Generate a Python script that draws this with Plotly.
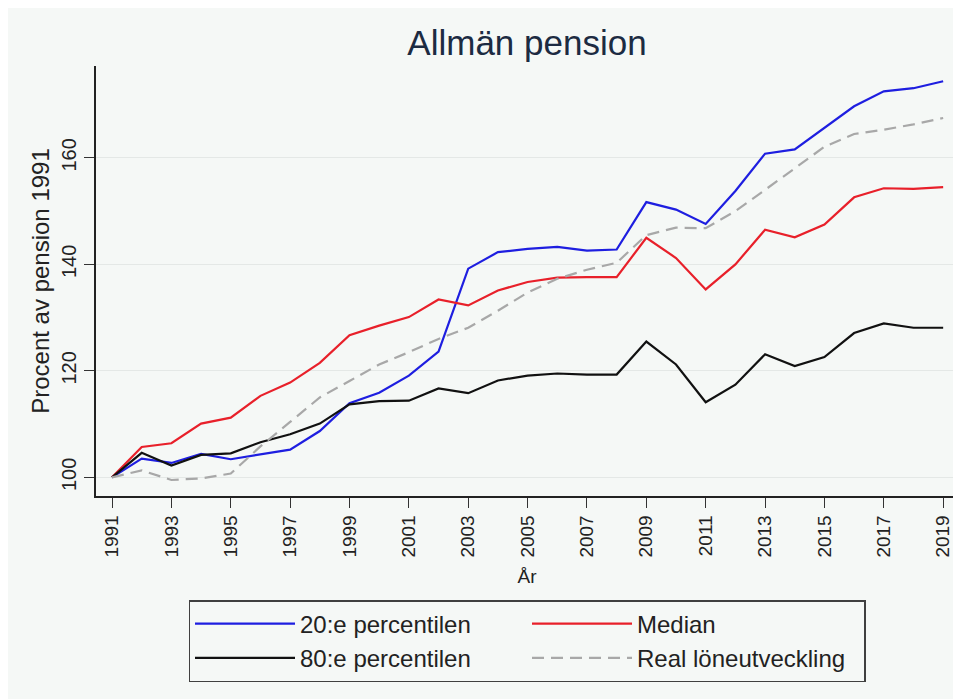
import plotly.graph_objects as go

years = list(range(1991, 2020))

p20 = [100, 103.5, 102.7, 104.4, 103.4, 104.3, 105.2, 108.7, 113.9, 115.9,
       119.1, 123.6, 139.2, 142.3, 142.9, 143.3, 142.6, 142.8, 151.7, 150.3,
       147.6, 153.8, 160.8, 161.6, 165.6, 169.7, 172.5, 173.1, 174.4]

median = [100, 105.7, 106.4, 110.1, 111.2, 115.3, 117.8, 121.5, 126.7, 128.5,
          130.1, 133.4, 132.3, 135.1, 136.7, 137.5, 137.6, 137.6, 145.0, 141.2,
          135.3, 140.0, 146.5, 145.1, 147.5, 152.6, 154.3, 154.2, 154.5]

p80 = [100, 104.6, 102.2, 104.2, 104.5, 106.6, 108.1, 110.1, 113.7, 114.3,
       114.4, 116.7, 115.8, 118.2, 119.1, 119.5, 119.3, 119.3, 125.5, 121.2,
       114.1, 117.4, 123.1, 120.9, 122.6, 127.1, 128.9, 128.1, 128.1]

real_wage = [100, 101.3, 99.5, 99.8, 100.7, 105.8, 110.4, 115.0, 118.1, 121.2,
             123.5, 126.0, 128.1, 131.3, 134.7, 137.3, 139.0, 140.3, 145.5, 146.9,
             146.8, 150.0, 154.0, 158.0, 162.1, 164.5, 165.3, 166.3, 167.5]

series_names = ["20:e percentilen", "Median", "80:e percentilen", "Real löneutveckling"]

x_tickvals = list(range(1991, 2020, 2))
x_ticktext = [str(v) for v in x_tickvals]
y_tickvals = [100, 120, 140, 160]
y_ticktext = ["100", "120", "140", "160"]

BG = "#f5f8f6"
FONT = "Liberation Sans, Arial, sans-serif"

fig = go.Figure()
styles = [
    dict(color="#1e1ee0", width=2.2),
    dict(color="#e8202a", width=2.2),
    dict(color="#111111", width=2.2),
    dict(color="#a8a8a8", width=2.2, dash="12px,7px"),
]
for name, vals, st in zip(series_names, [p20, median, p80, real_wage], styles):
    fig.add_trace(go.Scatter(x=years, y=vals, mode="lines", name=name, line=st))

fig.update_layout(
    width=961, height=699,
    margin=dict(l=88, r=11, t=58, b=211, autoexpand=False),
    paper_bgcolor=BG,
    plot_bgcolor=BG,
    font=dict(family=FONT, color="#222222"),
    title=dict(text="Allmän pension", x=0.5, xref="paper", xanchor="center",
               y=1 - 35 / 699, yref="container", yanchor="middle",
               font=dict(size=35, color="#1c2b42", family=FONT)),
    showlegend=True,
    legend=dict(
        orientation="h", x=0.5, xanchor="center", y=-0.242, yanchor="top",
        xref="paper", yref="paper",
        font=dict(size=24, color="#222222", family=FONT),
        bgcolor=BG, bordercolor="#404040", borderwidth=1.5,
        itemwidth=100, entrywidth=222, traceorder="normal",
    ),
)

fig.update_xaxes(
    range=[1990.46, 2019.5], automargin=False,
    tickvals=x_tickvals, ticktext=x_ticktext, tickangle=-90,
    tickfont=dict(size=19, color="#222222"),
    ticks="outside", ticklen=10, tickwidth=1.3, tickcolor="#333333",
    showline=True, linecolor="#222222", linewidth=1.5,
    showgrid=False, zeroline=False,
    title=dict(text="År", font=dict(size=19, color="#222222"), standoff=13),
)
fig.update_yaxes(
    range=[96.49, 177.27], automargin=False,
    tickvals=y_tickvals, ticktext=y_ticktext, tickangle=-90,
    tickfont=dict(size=20, color="#222222"),
    ticks="outside", ticklen=10, tickwidth=1.3, tickcolor="#333333",
    showline=True, linecolor="#222222", linewidth=1.5,
    showgrid=True, gridcolor="#e4e8e6", gridwidth=1, zeroline=False,
    title=dict(text="Procent av pension 1991", font=dict(size=24, color="#222222"), standoff=2),
)

fig.write_html("out.html")
